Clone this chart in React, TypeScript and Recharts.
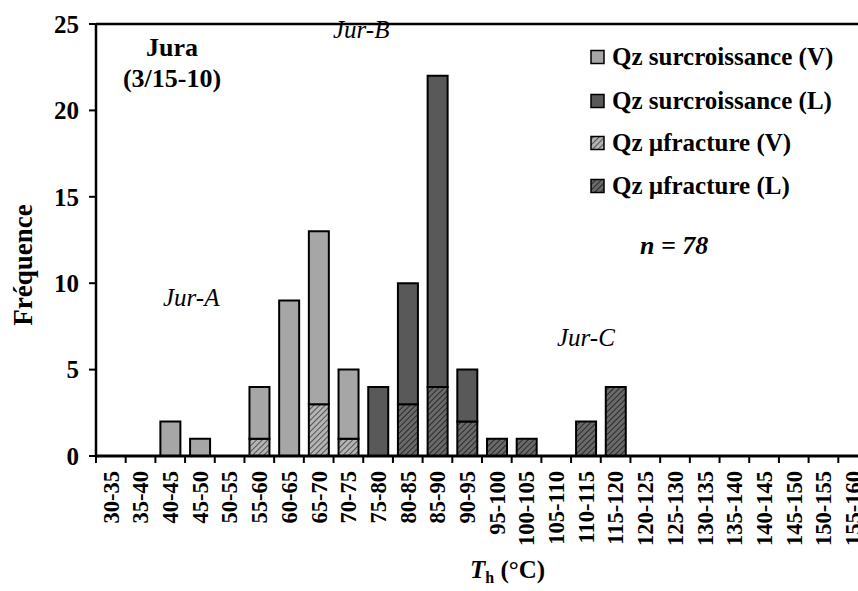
import { BarChart, Bar, XAxis, YAxis, ReferenceLine } from 'recharts';

// temperature classes (°C)
const categories = [
  '30-35', '35-40', '40-45', '45-50', '50-55', '55-60', '60-65', '65-70', '70-75', '75-80',
  '80-85', '85-90', '90-95', '95-100', '100-105', '105-110', '110-115', '115-120', '120-125',
  '125-130', '130-135', '135-140', '140-145', '145-150', '150-155', '155-160',
];
const surcV = [0, 0, 2, 1, 0, 3, 9, 10, 4, 0, 0, 0, 0, 0, 0, 0, 0, 0, 0, 0, 0, 0, 0, 0, 0, 0];
const surcL = [0, 0, 0, 0, 0, 0, 0, 0, 0, 4, 7, 18, 3, 0, 0, 0, 0, 0, 0, 0, 0, 0, 0, 0, 0, 0];
const microV = [0, 0, 0, 0, 0, 1, 0, 3, 1, 0, 0, 0, 0, 0, 0, 0, 0, 0, 0, 0, 0, 0, 0, 0, 0, 0];
const microL = [0, 0, 0, 0, 0, 0, 0, 0, 0, 0, 3, 4, 2, 1, 1, 0, 2, 4, 0, 0, 0, 0, 0, 0, 0, 0];
const yTicks = [0, 5, 10, 15, 20, 25];

const data = categories.map((c, i) => ({
  name: c,
  surcV: surcV[i],
  surcL: surcL[i],
  microV: microV[i],
  microL: microL[i],
}));

const FONT = "'Liberation Serif', 'Times New Roman', serif";
const CHART_W = 870;
const CHART_H = 591;
const Y_W = 96;
const RIGHT = 2;
const BAND = (CHART_W - Y_W - RIGHT) / categories.length;

const LIGHT = '#a6a6a6';
const DARK = '#595959';

const bold = { fontFamily: FONT, fontWeight: 700 } as const;
const italic = { fontFamily: FONT, fontStyle: 'italic' } as const;

function XTick(props: any) {
  const { x, y, payload, index } = props;
  const left = x - BAND / 2;
  return (
    <g>
      <line x1={left} y1={y} x2={left} y2={y + 7} stroke="#000" strokeWidth={2} />
      {index === categories.length - 1 && (
        <line x1={x + BAND / 2} y1={y} x2={x + BAND / 2} y2={y + 7} stroke="#000" strokeWidth={2} />
      )}
      <text
        x={x}
        y={y + 15}
        transform={`rotate(-90, ${x}, ${y + 15})`}
        textAnchor="end"
        dy="0.35em"
        style={{ ...bold, fontSize: 22.5 }}
        fill="#000"
      >
        {payload.value}
      </text>
    </g>
  );
}

function YTick(props: any) {
  const { y, payload } = props;
  return (
    <text x={79} y={y} dy="0.35em" textAnchor="end" style={{ ...bold, fontSize: 25 }} fill="#000">
      {payload.value}
    </text>
  );
}

const legendItems = [
  { label: 'Qz surcroissance (V)', fill: LIGHT },
  { label: 'Qz surcroissance (L)', fill: DARK },
  { label: 'Qz \u00b5fracture (V)', fill: 'url(#hatchLight)' },
  { label: 'Qz \u00b5fracture (L)', fill: 'url(#hatchDark)' },
];
const legendRows = [57, 101, 143, 186];

export default function App() {
  return (
    <div style={{ position: 'absolute', left: 0, top: 0, width: 858, height: 591, overflow: 'hidden', background: '#fff' }}>
      <svg width={0} height={0} style={{ position: 'absolute' }}>
        <defs>
          <pattern id="hatchLight" patternUnits="userSpaceOnUse" width={4} height={4} patternTransform="rotate(45)">
            <rect width={4} height={4} fill="#b4b4b4" />
            <line x1={0} y1={0} x2={0} y2={4} stroke="#3a3a3a" strokeWidth={1.6} />
          </pattern>
          <pattern id="hatchDark" patternUnits="userSpaceOnUse" width={4} height={4} patternTransform="rotate(45)">
            <rect width={4} height={4} fill="#6a6a6a" />
            <line x1={0} y1={0} x2={0} y2={4} stroke="#1a1a1a" strokeWidth={1.6} />
          </pattern>
        </defs>
      </svg>

      <BarChart
        width={CHART_W}
        height={CHART_H}
        data={data}
        margin={{ top: 24, right: RIGHT, left: 0, bottom: 0 }}
        barSize={20}
      >
        <XAxis
          dataKey="name"
          interval={0}
          height={135}
          tickLine={false}
          tickSize={0}
          tickMargin={0}
          axisLine={{ stroke: '#000', strokeWidth: 3 }}
          tick={<XTick />}
        />
        <YAxis
          width={Y_W}
          domain={[0, 25]}
          ticks={yTicks}
          tickSize={7}
          tickLine={{ stroke: '#000', strokeWidth: 2 }}
          axisLine={{ stroke: '#000', strokeWidth: 2.5 }}
          tick={<YTick />}
        />
        <ReferenceLine y={25} stroke="#000" strokeWidth={2.5} />
        <Bar dataKey="microV" stackId="a" fill="url(#hatchLight)" stroke="#000" strokeWidth={2} isAnimationActive={false} />
        <Bar dataKey="microL" stackId="a" fill="url(#hatchDark)" stroke="#000" strokeWidth={2} isAnimationActive={false} />
        <Bar dataKey="surcV" stackId="a" fill={LIGHT} stroke="#000" strokeWidth={2} isAnimationActive={false} />
        <Bar dataKey="surcL" stackId="a" fill={DARK} stroke="#000" strokeWidth={2} isAnimationActive={false} />
      </BarChart>

      {/* labels and legend on top */}
      <svg
        width={858}
        height={591}
        style={{ position: 'absolute', left: 0, top: 0, pointerEvents: 'none', fontFamily: FONT }}
        fill="#000"
      >
        <text x={32} y={265} transform="rotate(-90, 32, 265)" textAnchor="middle" style={{ ...bold, fontSize: 27 }}>
          Fréquence
        </text>
        <text x={470} y={578} style={{ ...bold, fontSize: 25 }}>
          <tspan fontStyle="italic">T</tspan>
          <tspan fontSize={16} dy={5}>h</tspan>
          <tspan dy={-5}> (°C)</tspan>
        </text>

        <text x={172} y={56} textAnchor="middle" style={{ ...bold, fontSize: 26 }}>Jura</text>
        <text x={172} y={87} textAnchor="middle" style={{ ...bold, fontSize: 26 }}>(3/15-10)</text>
        <text x={333} y={38} style={{ ...italic, fontSize: 25 }}>Jur-B</text>
        <text x={163} y={306} style={{ ...italic, fontSize: 25 }}>Jur-A</text>
        <text x={557} y={346} style={{ ...italic, fontSize: 25 }}>Jur-C</text>
        <text x={640} y={254} style={{ ...bold, fontStyle: 'italic', fontSize: 26 }}>n = 78</text>

        {legendItems.map((it, i) => (
          <g key={it.label}>
            <rect x={591} y={legendRows[i] - 6.5} width={13} height={13} fill={it.fill} stroke="#000" strokeWidth={1.5} />
            <text x={612} y={legendRows[i]} dy="0.33em" style={{ ...bold, fontSize: 25 }}>
              {it.label}
            </text>
          </g>
        ))}
      </svg>
    </div>
  );
}
